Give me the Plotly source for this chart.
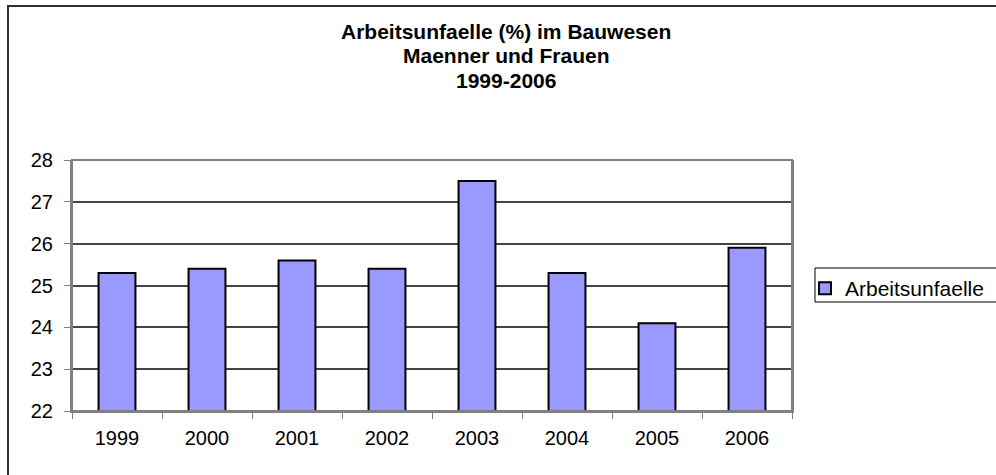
import plotly.graph_objects as go

years = ["1999", "2000", "2001", "2002", "2003", "2004", "2005", "2006"]
values = [25.3, 25.4, 25.6, 25.4, 27.5, 25.3, 24.1, 25.9]
series_name = "Arbeitsunfaelle"
title_lines = ["Arbeitsunfaelle (%) im Bauwesen", "Maenner und Frauen", "1999-2006"]

W, H = 996, 475
L, R, T, B = 72, 792, 160, 411

def px_x(p):
    return (p - L) / (R - L)

def px_y(p):
    return (B - p) / (B - T)

fig = go.Figure()
fig.add_trace(go.Bar(
    x=years, y=values, name=series_name,
    marker=dict(color="#9999FF", line=dict(color="black", width=2)),
    showlegend=True,
))

fig.update_layout(
    width=W, height=H,
    margin=dict(l=L, r=W - R, t=T, b=H - B, pad=0, autoexpand=False),
    paper_bgcolor="white", plot_bgcolor="white",
    font=dict(family="Liberation Sans, Arial, sans-serif", size=20, color="black"),
    bargap=0.59,
    showlegend=True,
    legend=dict(
        x=px_x(805), y=px_y(268), xanchor="left", yanchor="top",
        borderwidth=0, bgcolor="rgba(0,0,0,0)",
        font=dict(size=21), itemwidth=30, tracegroupgap=0,
    ),
    xaxis=dict(
        type="category", tickson="boundaries", ticks="outside", ticklen=6,
        tickcolor="#808080", showline=True, linecolor="#808080", linewidth=2,
        showgrid=False, mirror=False, tickfont=dict(size=20),
        ticklabelstandoff=8, automargin=False,
    ),
    yaxis=dict(
        range=[22, 28], dtick=1, ticks="outside", ticklen=6, tickcolor="#808080",
        showline=True, linecolor="#808080", linewidth=2, mirror=True,
        showgrid=True, gridcolor="#444444", gridwidth=1.5, zeroline=False,
        tickfont=dict(size=20), ticklabelstandoff=7, automargin=False,
    ),
)
# plot area border
fig.add_shape(type="rect", xref="paper", yref="paper", x0=0, x1=1, y0=0, y1=1,
              line=dict(color="#808080", width=2), layer="above")
# legend box
fig.add_shape(type="rect", xref="paper", yref="paper",
              x0=px_x(815), x1=px_x(1005), y0=px_y(302), y1=px_y(268),
              line=dict(color="black", width=1), layer="below")
# outer chart border (top and left visible)
fig.add_shape(type="rect", xref="paper", yref="paper",
              x0=px_x(8), x1=px_x(1010), y0=px_y(490), y1=px_y(6),
              line=dict(color="#333333", width=2), layer="below")

for t, yc in zip(title_lines, [31.5, 56, 80.5]):
    fig.add_annotation(
        text="<b>%s</b>" % t,
        xref="paper", yref="paper", x=px_x(506), y=px_y(yc),
        xanchor="center", yanchor="middle", showarrow=False,
        font=dict(size=21), align="center",
    )

fig.write_html("out.html")
